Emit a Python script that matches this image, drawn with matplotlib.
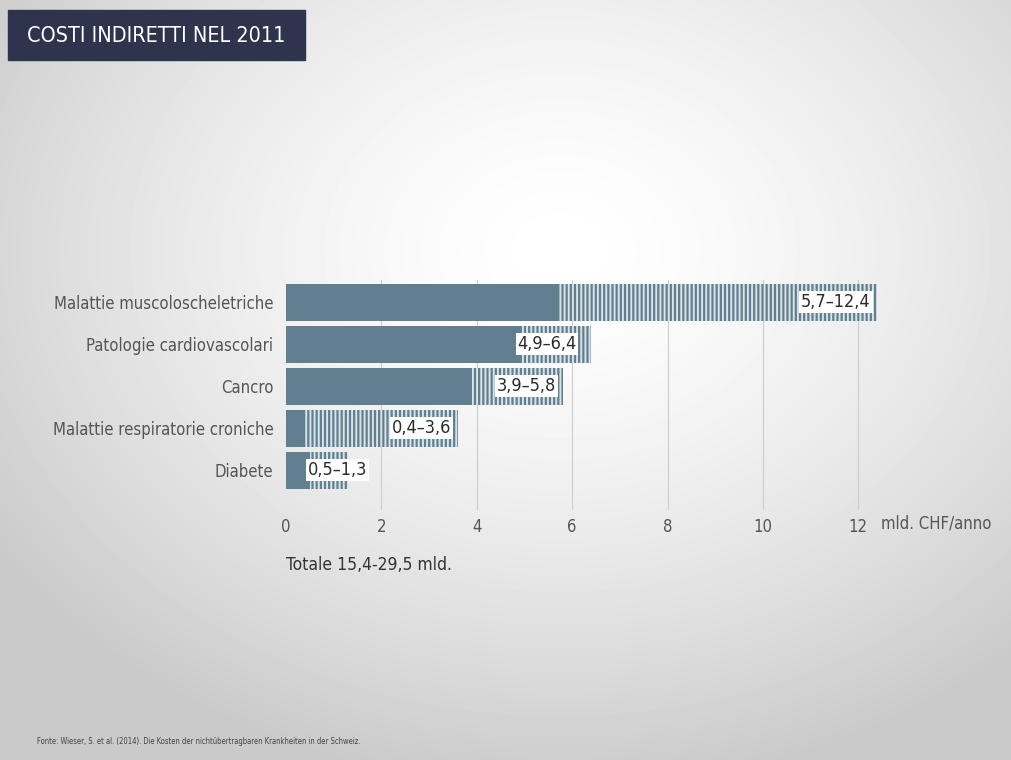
import matplotlib
matplotlib.use('Agg')
import matplotlib.pyplot as plt
import numpy as np

# dati: costi indiretti (mld. CHF/anno), minimo e massimo
malattie = ["Malattie muscoloscheletriche", "Patologie cardiovascolari", "Cancro",
            "Malattie respiratorie croniche", "Diabete"]
minimo = [5.7, 4.9, 3.9, 0.4, 0.5]
massimo = [12.4, 6.4, 5.8, 3.6, 1.3]
etichette = ["5,7\u201312,4", "4,9\u20136,4", "3,9\u20135,8", "0,4\u20133,6", "0,5\u20131,3"]
xticks = [0, 2, 4, 6, 8, 10, 12]

plt.rcParams['font.family'] = ['DejaVu Sans']
plt.rcParams['font.stretch'] = 'condensed'
plt.rcParams['hatch.linewidth'] = 1.4

W, H = 1011, 760
fig = plt.figure(figsize=(W / 100, H / 100), dpi=100)

# sfondo con sfumatura radiale
bg = fig.add_axes([0, 0, 1, 1])
yy, xx = np.mgrid[0:H, 0:W]
r = np.sqrt(((xx - 560) / 680.0) ** 2 + ((yy - 250) / 540.0) ** 2)
val = 1.0 - 0.21 * np.clip(r, 0, 1.0) ** 1.5
bg.imshow(val, cmap='gray', vmin=0, vmax=1, aspect='auto', extent=[0, W, H, 0])
bg.set_xlim(0, W)
bg.set_ylim(H, 0)
bg.axis('off')

# titolo
bg.add_patch(plt.Rectangle((8, 10), 297, 50, color='#2f344d', zorder=2))
bg.text(27, 36, "COSTI INDIRETTI NEL 2011", color='white', fontsize=15.5, fontweight='medium',
        va='center', ha='left', zorder=3)

bg.text(37, 741, "Fonte: Wieser, S. et al. (2014). Die Kosten der nicht\u00fcbertragbaren Krankheiten in der Schweiz.",
        fontsize=5.5, color='#444444', va='center', ha='left')

# grafico
ax = fig.add_axes([286 / W, 1 - 510 / H, 620 / W, 230 / H])
ax.patch.set_alpha(0)
pos = np.arange(len(malattie))
colore = '#627f8f'
ax.barh(pos, massimo, height=0.88, color=colore, edgecolor='#dae3e9', hatch='||||', linewidth=0, zorder=2)
ax.barh(pos, minimo, height=0.88, color=colore, linewidth=0, zorder=3)

for p, mn, mx, lab in zip(pos, minimo, massimo, etichette):
    if mx - mn > 1.5:
        x0, ha = mx - 0.14, 'right'
    else:
        x0, ha = mn - 0.05, 'left'
    ax.text(x0, p, lab, ha=ha, va='center', fontsize=13, color='#2a2a2a', zorder=5,
            bbox=dict(boxstyle='square,pad=0.1', fc='white', ec='none'))

ax.set_xlim(0, 13)
ax.set_ylim(4.95, -0.524)
for t in xticks[1:]:
    ax.axvline(t, color='#cfcfcf', lw=0.9, zorder=1)
ax.set_xticks(xticks)
ax.set_xticklabels([str(t) for t in xticks])
ax.set_yticks(pos)
ax.set_yticklabels(malattie)
ax.tick_params(axis='both', length=0, labelsize=12, labelcolor='#555555')
ax.tick_params(axis='x', pad=6)
ax.tick_params(axis='y', pad=9)
for s in ax.spines.values():
    s.set_visible(False)

bg.text(881, 523, "mld. CHF/anno", fontsize=12, color='#555555', va='center', ha='left')
bg.text(286, 565, "Totale 15,4-29,5 mld.", fontsize=12.5, color='#333333',
        va='center', ha='left')

fig.savefig('out.png', dpi=100)
